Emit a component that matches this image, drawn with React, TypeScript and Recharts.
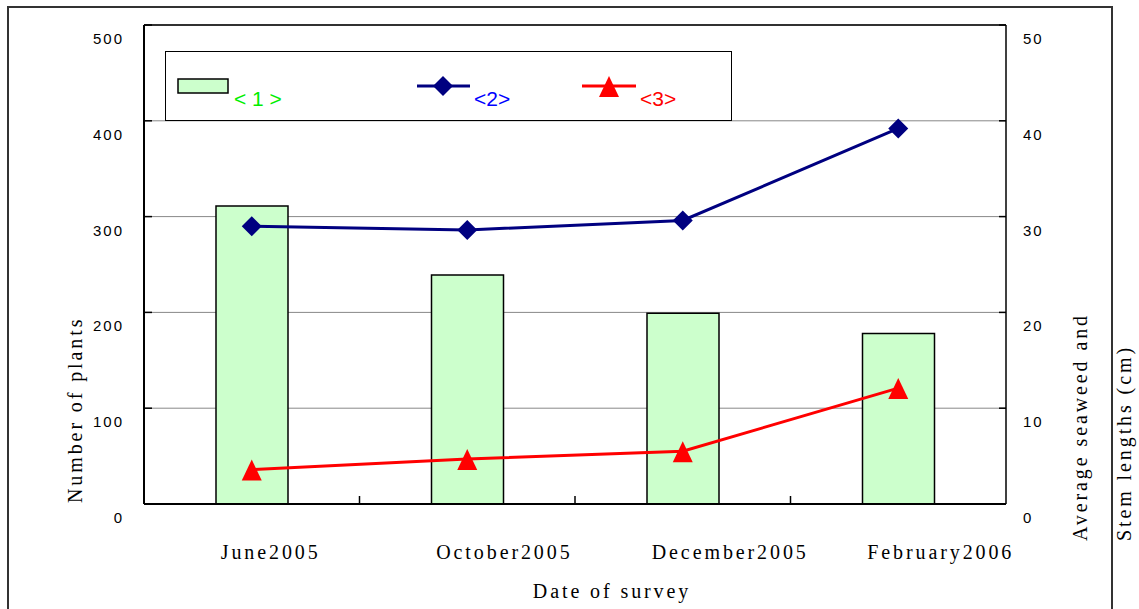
import {
  Bar,
  CartesianGrid,
  ComposedChart,
  Legend,
  Line,
  ReferenceLine,
  XAxis,
  YAxis,
} from "recharts";

const categories = ["June2005", "October2005", "December2005", "February2006"];
const plantCounts = [311, 239, 199, 178];
const seriesTwo = [29.0, 28.6, 29.6, 39.2];
const seriesThree = [3.6, 4.7, 5.5, 12.1];
const leftTicks = [0, 100, 200, 300, 400, 500];
const rightTicks = [0, 10, 20, 30, 40, 50];
const legendLabels = ["< 1 >", "<2>", "<3>"];

const W = 1139;
const H = 609;
const LEFT_W = 144;
const RIGHT_W = 133;
const HALF_BAND = (W - LEFT_W - RIGHT_W) / categories.length / 2;

const sans = "'Liberation Sans', Arial, sans-serif";
const serif = "'Liberation Serif', 'Times New Roman', serif";
const NAVY = "#000080";
const RED = "#ff0000";
const BAR_FILL = "#ccffcc";

const data = categories.map((c, i) => ({
  cat: c,
  plants: plantCounts[i],
  two: seriesTwo[i],
  three: seriesThree[i],
}));

function LeftTick(props: any) {
  const { x, y, payload } = props;
  return (
    <g>
      <line x1={x} x2={x + 8} y1={y} y2={y} stroke="#000" strokeWidth={1.5} />
      <text x={x - 20} y={y + 19} textAnchor="end" fontFamily={sans} fontSize={15} letterSpacing={2} fill="#000">
        {payload.value}
      </text>
    </g>
  );
}

function RightTick(props: any) {
  const { x, y, payload } = props;
  return (
    <g>
      <line x1={x - 7} x2={x} y1={y} y2={y} stroke="#000" strokeWidth={1.5} />
      <text x={x + 17} y={y + 19} textAnchor="start" fontFamily={sans} fontSize={15} letterSpacing={2} fill="#000">
        {payload.value}
      </text>
    </g>
  );
}

function BottomTick(props: any) {
  const { x, y, payload, index } = props;
  return (
    <g>
      {index < categories.length - 1 && (
        <line x1={x + HALF_BAND} x2={x + HALF_BAND} y1={y - 8} y2={y} stroke="#000" strokeWidth={1.5} />
      )}
      <text x={x - 31} y={y + 55} textAnchor="start" fontFamily={serif} fontSize={20} letterSpacing={2.9} fill="#000">
        {payload.value}
      </text>
    </g>
  );
}

function Diamond(props: any) {
  const { cx, cy } = props;
  if (cx == null || cy == null) return null;
  return <polygon points={`${cx},${cy - 10} ${cx + 10},${cy} ${cx},${cy + 10} ${cx - 10},${cy}`} fill={NAVY} />;
}

function Triangle(props: any) {
  const { cx, cy } = props;
  if (cx == null || cy == null) return null;
  return <polygon points={`${cx},${cy - 10} ${cx + 10},${cy + 11} ${cx - 10},${cy + 11}`} fill={RED} />;
}

function LegendBox() {
  return (
    <svg width={568} height={71} style={{ display: "block" }}>
      <rect x={0.5} y={0.5} width={566} height={69} fill="#fff" stroke="#000" strokeWidth={1} />
      <rect x={13} y={28} width={50} height={14} fill={BAR_FILL} stroke="#000" strokeWidth={1.5} />
      <text x={69} y={55} fontFamily={sans} fontSize={21} fill="#00ee00">
        {legendLabels[0]}
      </text>
      <line x1={252} x2={305} y1={35} y2={35} stroke={NAVY} strokeWidth={3} />
      <Diamond cx={278} cy={35} />
      <text x={309} y={55} fontFamily={sans} fontSize={21} fill="#0000ff">
        {legendLabels[1]}
      </text>
      <line x1={417} x2={471} y1={35} y2={35} stroke={RED} strokeWidth={3} />
      <Triangle cx={444} cy={35} />
      <text x={475} y={55} fontFamily={sans} fontSize={21} fill={RED}>
        {legendLabels[2]}
      </text>
    </svg>
  );
}

export default function App() {
  return (
    <div style={{ position: "absolute", left: 0, top: 0, width: W, height: H, overflow: "hidden", background: "#fff" }}>
      <div
        style={{
          position: "absolute",
          left: 7,
          top: 6,
          width: 1102,
          height: 700,
          border: "2px solid #333",
        }}
      />
      <ComposedChart width={W} height={H} data={data} margin={{ top: 25, right: 0, bottom: 0, left: 0 }}>
        <CartesianGrid yAxisId="left" vertical={false} stroke="#888" strokeWidth={1} />
        <XAxis
          dataKey="cat"
          height={105}
          tickSize={0}
          tickMargin={0}
          tickLine={false}
          axisLine={{ stroke: "#000", strokeWidth: 2 }}
          tick={<BottomTick />}
          interval={0}
        />
        <YAxis
          yAxisId="left"
          width={LEFT_W}
          domain={[0, 500]}
          ticks={leftTicks}
          tickSize={0}
          tickMargin={0}
          tickLine={false}
          axisLine={{ stroke: "#000", strokeWidth: 2 }}
          tick={<LeftTick />}
        />
        <YAxis
          yAxisId="right"
          orientation="right"
          width={RIGHT_W}
          domain={[0, 50]}
          ticks={rightTicks}
          tickSize={0}
          tickMargin={0}
          tickLine={false}
          axisLine={{ stroke: "#000", strokeWidth: 1.5 }}
          tick={<RightTick />}
        />
        <ReferenceLine yAxisId="left" y={500} stroke="#000" strokeWidth={1.5} />
        <Bar yAxisId="left" dataKey="plants" barSize={72} fill={BAR_FILL} stroke="#000" strokeWidth={1.5} isAnimationActive={false} />
        <Line yAxisId="right" type="linear" dataKey="two" stroke={NAVY} strokeWidth={3} dot={<Diamond />} activeDot={false} isAnimationActive={false} />
        <Line yAxisId="right" type="linear" dataKey="three" stroke={RED} strokeWidth={3} dot={<Triangle />} activeDot={false} isAnimationActive={false} />
        <Legend
          layout="horizontal"
          verticalAlign="middle"
          align="center"
          wrapperStyle={{ left: 165, top: 51, width: 568, height: 71 }}
          content={() => <LegendBox />}
        />
      </ComposedChart>
      <svg width={W} height={H} style={{ position: "absolute", left: 0, top: 0, pointerEvents: "none" }}>
        <text x={82} y={503} transform="rotate(-90 82 503)" fontFamily={serif} fontSize={20} letterSpacing={2.9} fill="#000">
          Number of plants
        </text>
        <text x={1087} y={541} transform="rotate(-90 1087 541)" fontFamily={serif} fontSize={20} letterSpacing={2.9} fill="#000">
          Average seaweed and
        </text>
        <text x={1131} y={541} transform="rotate(-90 1131 541)" fontFamily={serif} fontSize={20} letterSpacing={2.9} fill="#000">
          Stem lengths (cm)
        </text>
        <text x={612} y={598} textAnchor="middle" fontFamily={serif} fontSize={20} letterSpacing={2.9} fill="#000">
          Date of survey
        </text>
      </svg>
    </div>
  );
}
